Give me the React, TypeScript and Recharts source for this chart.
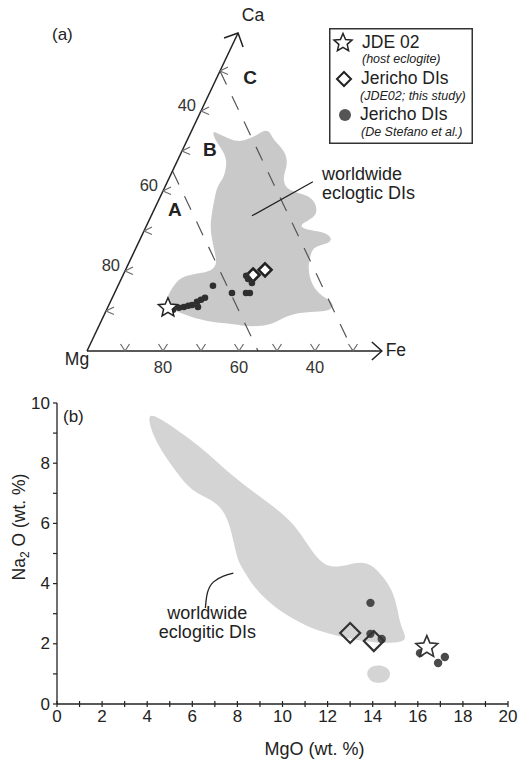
import React from 'react';
import { ScatterChart, Scatter, XAxis, YAxis } from 'recharts';

const FONT = '"Liberation Sans", Arial, Helvetica, sans-serif';
const INK = '#222222';

// ---------------- (a) ternary Mg–Ca–Fe, values in % (Mg = 100 − Ca − Fe) ----------------
const fieldCa = [55, 54.5, 53.3, 52.3, 52.8, 54, 55.3, 54.8, 52.8, 50.8, 48.5, 46, 43.5, 41, 39.8, 39, 37.3, 34.8, 33.3, 32, 31, 30.3, 29.8, 28.5, 27, 26.5, 25.8, 23.5, 21, 17.8, 15.3, 13.5, 12.3, 10.8, 10, 9.8, 9.5, 7.8, 6.5, 6, 6.8, 7, 7.8, 9.3, 10.3, 11.5, 13.8, 17.8, 19, 19.5, 20.3, 22, 24.5, 27.8, 31, 34.5, 38.5, 41, 42.8, 44.5, 47.8, 50.3, 52.8];
const fieldFe = [5.4, 7.0, 10.2, 13.4, 15.7, 17.7, 19.2, 20.8, 22.6, 25.9, 28.4, 29.6, 29.8, 31.6, 34.3, 38.4, 41.4, 43.2, 42.9, 40.8, 40.6, 42.8, 47.2, 50.2, 50.5, 48.1, 46.6, 46.9, 47.7, 49.8, 52.4, 55.4, 58.4, 59.4, 58.2, 55.7, 49.5, 46.9, 44.9, 39.9, 35.1, 30.7, 25.9, 20.6, 17.5, 15.0, 14.2, 14.8, 16.8, 20.8, 23.0, 23.2, 21.4, 19.0, 16.9, 15.6, 14.4, 13.7, 14.2, 14.1, 13.0, 10.4, 7.3];
const hostCa = [10.8];
const hostFe = [15.9];
const diCa = [19.0, 20.3];
const diFe = [34.2, 36.7];
const dsCa = [16.3, 14.5, 14.5, 14.5, 18.0, 17.0, 18.8, 13.3, 12.8, 12.3, 11.5, 11.3, 11.0, 10.8, 11.0, 10.3];
const dsFe = [25.0, 30.9, 35.6, 34.6, 33.4, 34.9, 32.5, 24.4, 23.6, 22.8, 21.9, 21.0, 20.0, 18.8, 23.7, 17.5];
const ternTicks = [10, 20, 30, 40, 50, 60, 70];
const ternTickLabels = ['', '80', '', '60', '', '40', ''];
const boundaryMg = [55, 30];
const caAxisEnd = 79.5;
const feAxisEnd = 77.6;
const fieldNames = ['A', 'B', 'C'];
const fieldNameCa = [35.3, 50.3, 68.3];
const fieldNameFe = [5.5, 7.2, 8.8];
const leaderCa = [33.8, 42.3];
const leaderFe = [26.5, 38.3];

// ---------------- (b) Na2O vs MgO ----------------
const regionMgO = [3.95, 4.58, 5.78, 6.67, 7.82, 9.02, 10.22, 10.8, 11.56, 12.13, 12.89, 13.78, 14.49, 14.93, 15.11, 15.24, 15.6, 14.8, 14.22, 13.16, 11.69, 10.8, 9.6, 8.71, 8.27, 8.0, 7.82, 7.56, 7.11, 6.36, 5.78, 4.89, 4.27];
const regionNa2O = [9.7, 9.5, 8.87, 8.34, 7.54, 6.88, 6.21, 5.68, 4.78, 4.52, 4.62, 4.78, 4.22, 3.69, 3.12, 2.56, 2.08, 2.03, 2.03, 2.13, 2.39, 2.69, 3.22, 3.89, 4.45, 4.78, 5.45, 6.21, 6.68, 6.94, 7.21, 8.11, 8.87];
const blobMgO = [13.7, 13.85, 14.2, 14.6, 14.82, 14.7, 14.3, 13.9];
const blobNa2O = [1.0, 1.22, 1.3, 1.25, 1.05, 0.78, 0.68, 0.74];
const jdeMgO = [16.4];
const jdeNa2O = [1.89];
const diMgO = [13.0, 14.05];
const diNa2O = [2.36, 2.09];
const dsMgO = [13.9, 13.9, 14.4, 16.1, 16.9, 17.2];
const dsNa2O = [3.36, 2.33, 2.16, 1.69, 1.36, 1.56];
const xTicks = [0, 1, 2, 3, 4, 5, 6, 7, 8, 9, 10, 11, 12, 13, 14, 15, 16, 17, 18, 19, 20];
const yTicks = [0, 1, 2, 3, 4, 5, 6, 7, 8, 9, 10];
const calloutMgO = [6.58, 6.67, 6.93, 7.38, 7.82];
const calloutNa2O = [3.19, 3.69, 4.05, 4.25, 4.35];

// ---------------- helpers ----------------
const tern = (ca: number, fe: number) => ({ x: fe + ca / 2, y: ca });
const xy = (xs: number[], ys: number[]) => xs.map((x, i) => ({ x, y: ys[i] }));

const fieldData = fieldCa.map((ca, i) => tern(ca, fieldFe[i]));
const hostData = hostCa.map((ca, i) => tern(ca, hostFe[i]));
const diData = diCa.map((ca, i) => tern(ca, diFe[i]));
const dsData = dsCa.map((ca, i) => tern(ca, dsFe[i]));
const bottomTickData = ternTicks.map((v, i) => ({ ...tern(0, v), label: ternTickLabels[i] }));
const leftTickData = ternTicks.map((v, i) => ({ ...tern(v, 0), label: ternTickLabels[i] }));
const boundaryData = boundaryMg.map((mg) => [tern(100 - mg, 0), tern(0, 100 - mg)]);
const caAxisData = [tern(0, 0), tern(caAxisEnd, 0)];
const feAxisData = [tern(0, 0), tern(0, feAxisEnd)];
const fieldNameData = fieldNames.map((n, i) => ({ ...tern(fieldNameCa[i], fieldNameFe[i]), label: n }));
const leaderData = leaderCa.map((ca, i) => tern(ca, leaderFe[i]));

const Empty = () => <g />;

const starPath = (cx: number, cy: number, R: number, r: number) => {
  let d = '';
  for (let i = 0; i < 10; i++) {
    const a = -Math.PI / 2 + (i * Math.PI) / 5;
    const rad = i % 2 === 0 ? R : r;
    d += (i ? 'L' : 'M') + (cx + rad * Math.cos(a)).toFixed(2) + ',' + (cy + rad * Math.sin(a)).toFixed(2);
  }
  return d + 'Z';
};
const diamondPath = (cx: number, cy: number, h: number) =>
  `M${cx},${cy - h}L${cx + h},${cy}L${cx},${cy + h}L${cx - h},${cy}Z`;

const T = (props: any) => <text fontFamily={FONT} fill={INK} {...props} />;

// ternary shapes
const BottomTick = (p: any) => (
  <g>
    <path d={`M${p.cx - 4.5},${p.cy - 7}L${p.cx},${p.cy}L${p.cx + 4.5},${p.cy - 7}`} fill="none" stroke="#6a6a6a" strokeWidth={1.2} />
    {p.payload.label ? (
      <T x={p.cx} y={p.cy + 16} textAnchor="middle" dominantBaseline="central" fontSize={16.5} fill="#333">
        {p.payload.label}
      </T>
    ) : null}
  </g>
);
const LeftTick = (p: any) => (
  <g>
    <path d={`M${p.cx + 8},${p.cy - 4}L${p.cx},${p.cy}L${p.cx + 8},${p.cy + 3.5}`} fill="none" stroke="#6a6a6a" strokeWidth={1.2} />
    {p.payload.label ? (
      <T x={p.cx - 5} y={p.cy - 6} textAnchor="end" dominantBaseline="central" fontSize={16.5} fill="#333">
        {p.payload.label}
      </T>
    ) : null}
  </g>
);
const CaTip = (p: any) => (
  <g>
    <path d={`M${p.cx - 14},${p.cy + 5}L${p.cx},${p.cy}L${p.cx + 5},${p.cy + 14}`} fill="none" stroke={INK} strokeWidth={1.5} />
    <T x={p.cx + 15} y={p.cy - 18.5} textAnchor="middle" dominantBaseline="central" fontSize={17.5}>Ca</T>
  </g>
);
const FeTip = (p: any) => (
  <g>
    <path d={`M${p.cx - 10},${p.cy - 9}L${p.cx},${p.cy}L${p.cx - 10},${p.cy + 9}`} fill="none" stroke={INK} strokeWidth={1.5} />
    <T x={p.cx + 14} y={p.cy - 1} textAnchor="middle" dominantBaseline="central" fontSize={17.5}>Fe</T>
  </g>
);
const MgCorner = (p: any) => (
  <T x={p.cx - 10} y={p.cy + 8} textAnchor="middle" dominantBaseline="central" fontSize={17.5}>Mg</T>
);
const FieldName = (p: any) => (
  <T x={p.cx} y={p.cy} textAnchor="middle" dominantBaseline="central" fontSize={19} fontWeight="bold">
    {p.payload.label}
  </T>
);
const TernCallout = (p: any) =>
  p.payload === leaderData[1] ? (
    <g>
      <T x={p.cx + 9} y={p.cy - 2} fontSize={18}>worldwide</T>
      <T x={p.cx + 9} y={p.cy + 17} fontSize={18}>eclogtic DIs</T>
    </g>
  ) : (
    <g />
  );

function TernaryPanel() {
  return (
    <ScatterChart width={525} height={385} margin={{ top: 11, right: 1, bottom: 14, left: 11 }}>
      <XAxis type="number" dataKey="x" domain={[-20, 115]} hide />
      <YAxis type="number" dataKey="y" domain={[-5, 85]} hide />
      <Scatter data={fieldData} shape={Empty} line={{ fill: '#c9c9c9', stroke: 'none' }} lineType="joint" lineJointType="basisClosed" isAnimationActive={false} />
      {boundaryData.map((seg, i) => (
        <Scatter key={'b' + i} data={seg} shape={Empty} line={{ stroke: '#555', strokeWidth: 1.2, strokeDasharray: '15 13', fill: 'none' }} lineType="joint" lineJointType="linear" isAnimationActive={false} />
      ))}
      <Scatter data={caAxisData} shape={Empty} line={{ stroke: INK, strokeWidth: 1.5, fill: 'none' }} lineType="joint" lineJointType="linear" isAnimationActive={false} />
      <Scatter data={feAxisData} shape={Empty} line={{ stroke: INK, strokeWidth: 1.5, fill: 'none' }} lineType="joint" lineJointType="linear" isAnimationActive={false} />
      <Scatter data={bottomTickData} shape={BottomTick} isAnimationActive={false} />
      <Scatter data={leftTickData} shape={LeftTick} isAnimationActive={false} />
      <Scatter data={[caAxisData[1]]} shape={CaTip} isAnimationActive={false} />
      <Scatter data={[feAxisData[1]]} shape={FeTip} isAnimationActive={false} />
      <Scatter data={[caAxisData[0]]} shape={MgCorner} isAnimationActive={false} />
      <Scatter data={fieldNameData} shape={FieldName} isAnimationActive={false} />
      <Scatter data={leaderData} shape={TernCallout} line={{ stroke: INK, strokeWidth: 1.3, fill: 'none' }} lineType="joint" lineJointType="linear" isAnimationActive={false} />
      <Scatter data={diData} shape={(p: any) => <path d={diamondPath(p.cx, p.cy, 6.5)} fill="#fff" stroke={INK} strokeWidth={2.6} />} isAnimationActive={false} />
      <Scatter data={dsData} shape={(p: any) => <circle cx={p.cx} cy={p.cy} r={3.3} fill="#2f2f2f" />} isAnimationActive={false} />
      <Scatter data={hostData} shape={(p: any) => <path d={starPath(p.cx, p.cy, 10, 4.6)} fill="#fff" stroke={INK} strokeWidth={1.5} />} isAnimationActive={false} />
    </ScatterChart>
  );
}

// binary panel shapes
const XTick = (p: any) => {
  const v = p.payload.value;
  return (
    <g>
      <line x1={p.x} x2={p.x} y1={p.y - 3} y2={p.y + 3} stroke={INK} strokeWidth={1.2} />
      {v % 2 === 0 ? (
        <T x={p.x} y={p.y + 18} textAnchor="middle" fontSize={17}>{v}</T>
      ) : null}
    </g>
  );
};
const YTick = (p: any) => {
  const v = p.payload.value;
  return (
    <g>
      <line x1={p.x - 4} x2={p.x} y1={p.y} y2={p.y} stroke={INK} strokeWidth={1.2} />
      {v % 2 === 0 ? (
        <T x={p.x - 7} y={p.y} textAnchor="end" dominantBaseline="central" fontSize={17}>{v}</T>
      ) : null}
    </g>
  );
};
const XLabel = (p: any) => {
  const vb = p.viewBox;
  return (
    <T x={vb.x + vb.width / 2 + 32} y={vb.y + vb.height - 1} textAnchor="middle" fontSize={18}>
      MgO (wt. %)
    </T>
  );
};
const YLabel = (p: any) => {
  const vb = p.viewBox;
  const x = vb.x + 8;
  const y = vb.y + vb.height / 2 - 26.5;
  return (
    <T x={x} y={y} textAnchor="middle" fontSize={17.5} transform={`rotate(-90, ${x}, ${y})`}>
      Na<tspan fontSize={12} dy={4}>2</tspan>
      <tspan dy={-4}> O (wt. %)</tspan>
    </T>
  );
};
const BinCallout = (p: any) =>
  p.payload === calloutData[0] ? (
    <g>
      <T x={p.cx + 2} y={p.cy + 11} textAnchor="middle" fontSize={18}>worldwide</T>
      <T x={p.cx + 2} y={p.cy + 30} textAnchor="middle" fontSize={18}>eclogitic DIs</T>
    </g>
  ) : (
    <g />
  );

const regionData = xy(regionMgO, regionNa2O);
const blobData = xy(blobMgO, blobNa2O);
const jdeData = xy(jdeMgO, jdeNa2O);
const diBinData = xy(diMgO, diNa2O);
const dsBinData = xy(dsMgO, dsNa2O);
const calloutData = xy(calloutMgO, calloutNa2O);

function BinaryPanel() {
  return (
    <ScatterChart width={525} height={379} margin={{ top: 23, right: 17, bottom: 3, left: 17 }}>
      <XAxis
        type="number"
        dataKey="x"
        domain={[0, 20]}
        ticks={xTicks}
        interval={0}
        tickSize={0}
        tickMargin={0}
        tickLine={false}
        tick={XTick}
        axisLine={{ stroke: INK, strokeWidth: 1.3 }}
        height={52}
        label={XLabel}
      />
      <YAxis
        type="number"
        dataKey="y"
        domain={[0, 10]}
        ticks={yTicks}
        interval={0}
        tickSize={0}
        tickMargin={0}
        tickLine={false}
        tick={YTick}
        axisLine={{ stroke: INK, strokeWidth: 1.3 }}
        width={40}
        label={YLabel}
      />
      <Scatter data={regionData} shape={Empty} line={{ fill: '#d4d4d4', stroke: 'none' }} lineType="joint" lineJointType="basisClosed" isAnimationActive={false} />
      <Scatter data={blobData} shape={Empty} line={{ fill: '#d4d4d4', stroke: 'none' }} lineType="joint" lineJointType="basisClosed" isAnimationActive={false} />
      <Scatter data={calloutData} shape={BinCallout} line={{ stroke: INK, strokeWidth: 1.3, fill: 'none' }} lineType="joint" lineJointType="natural" isAnimationActive={false} />
      <Scatter data={dsBinData} shape={(p: any) => <circle cx={p.cx} cy={p.cy} r={4.2} fill="#4a4a4a" />} isAnimationActive={false} />
      <Scatter data={diBinData} shape={(p: any) => <path d={diamondPath(p.cx, p.cy, 10)} fill="none" stroke="#333" strokeWidth={2.2} />} isAnimationActive={false} />
      <Scatter data={jdeData} shape={(p: any) => <path d={starPath(p.cx, p.cy, 11.5, 5.2)} fill="#fff" stroke="#333" strokeWidth={1.6} />} isAnimationActive={false} />
    </ScatterChart>
  );
}

function LegendBox() {
  return (
    <svg width={144} height={116} style={{ position: 'absolute', left: 329, top: 28 }}>
      <rect x={0.75} y={0.75} width={142.5} height={114.5} fill="#fff" stroke="#333" strokeWidth={1.5} />
      <path d={starPath(14, 15, 9.5, 4.4)} fill="#fff" stroke={INK} strokeWidth={1.5} />
      <T x={33} y={14} dominantBaseline="central" fontSize={17.5}>JDE 02</T>
      <T x={33} y={31} dominantBaseline="central" fontSize={12.5} fontStyle="italic">(host eclogite)</T>
      <path d={diamondPath(15, 51, 7)} fill="#fff" stroke={INK} strokeWidth={2} />
      <T x={32} y={50} dominantBaseline="central" fontSize={17.5}>Jericho DIs</T>
      <T x={31} y={68} dominantBaseline="central" fontSize={12.5} fontStyle="italic">(JDE02; this study)</T>
      <circle cx={16} cy={87} r={6} fill="#555" />
      <T x={31} y={86} dominantBaseline="central" fontSize={17.5}>Jericho DIs</T>
      <T x={32} y={104} dominantBaseline="central" fontSize={12.5} fontStyle="italic">(De Stefano et al.)</T>
    </svg>
  );
}

export default function App() {
  return (
    <div style={{ position: 'absolute', left: 0, top: 0, width: 525, height: 759, background: '#fff', overflow: 'hidden', fontFamily: FONT }}>
      <div style={{ position: 'absolute', left: 0, top: 0 }}>
        <TernaryPanel />
      </div>
      <div style={{ position: 'absolute', left: 0, top: 380 }}>
        <BinaryPanel />
      </div>
      <svg width={525} height={759} style={{ position: 'absolute', left: 0, top: 0, pointerEvents: 'none' }}>
        <T x={52} y={40} fontSize={17}>(a)</T>
        <T x={63} y={422} fontSize={17}>(b)</T>
      </svg>
      <LegendBox />
    </div>
  );
}
